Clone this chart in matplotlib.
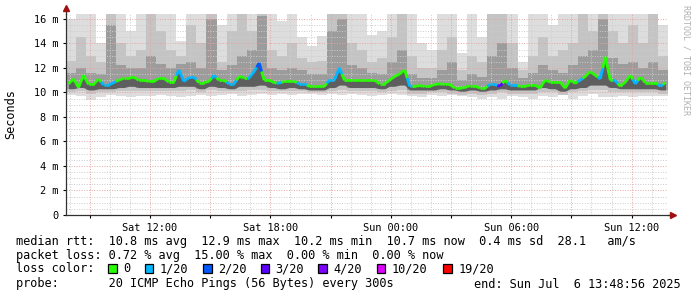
import matplotlib
matplotlib.use("Agg")
import matplotlib.pyplot as plt
import matplotlib.dates as mdates
from matplotlib.collections import LineCollection
from matplotlib.patches import Rectangle
from matplotlib.ticker import FuncFormatter, MultipleLocator
import numpy as np
import pandas as pd

# ----- data (values in ms) -----
start = pd.Timestamp("2025-07-05 07:48:56")
end = pd.Timestamp("2025-07-06 13:48:56")

# median rtt, one value per 15 minutes
rtt_median = [10.7, 11.1, 10.4, 11.4, 10.65, 10.65, 11.1, 10.6, 10.6, 10.8,
              11.0, 11.15, 11.15, 11.25, 11.0, 11.0, 10.9, 10.9, 11.15, 11.15,
              10.85, 10.85, 11.85, 10.9, 11.2, 11.25, 10.8, 10.8, 10.9, 11.4,
              11.0, 11.0, 10.7, 10.7, 11.3, 11.2, 11.2, 11.7, 12.4, 11.0,
              11.0, 10.8, 10.75, 10.9, 10.9, 10.9, 10.7, 10.7, 10.5, 10.5,
              10.5, 10.5, 11.0, 11.0, 12.0, 11.0, 11.0, 11.0, 11.0, 11.0,
              11.0, 11.0, 10.7, 10.7, 11.0, 11.3, 11.5, 11.85, 10.5, 10.5,
              10.55, 10.5, 10.5, 10.65, 10.7, 10.65, 10.65, 10.35, 10.35, 10.4,
              10.55, 10.55, 10.35, 10.35, 10.65, 10.65, 10.5, 11.0, 10.6, 10.6,
              10.5, 10.5, 10.6, 10.6, 10.35, 11.0, 10.85, 10.85, 10.85, 10.35,
              11.0, 10.75, 11.0, 11.3, 11.7, 11.4, 11.1, 12.9, 11.0, 10.95,
              10.5, 10.85, 11.4, 10.7, 11.25, 10.8, 10.8, 10.8, 10.5, 10.8]

# lost pings out of 20, per 15 minutes
loss = [0, 0, 0, 0, 0, 0, 0, 1, 1, 1, 0, 0, 0, 0, 0, 0, 0, 0, 0, 0,
        0, 0, 1, 1, 1, 1, 0, 0, 0, 1, 0, 0, 1, 1, 0, 0, 1, 1, 2, 0,
        0, 0, 1, 0, 0, 0, 1, 1, 0, 0, 0, 0, 1, 1, 1, 0, 0, 0, 0, 0,
        0, 0, 0, 0, 0, 0, 0, 0, 1, 0, 0, 0, 0, 0, 0, 0, 0, 0, 0, 0,
        0, 0, 0, 0, 1, 1, 3, 0, 1, 1, 0, 0, 0, 0, 0, 0, 0, 0, 0, 0,
        0, 0, 1, 0, 0, 0, 1, 0, 0, 1, 0, 0, 0, 1, 0, 0, 0, 0, 1, 0]

# smoke envelope, one value per 30 minutes
rtt_max = [16.0, 16.4, 16.4, 14.0, 16.4, 16.4, 15.0, 16.4, 16.4, 16.4,
           16.4, 14.2, 16.4, 16.4, 16.4, 15.5, 16.4, 16.4, 16.4, 16.4,
           16.4, 15.8, 16.4, 14.5, 13.8, 14.6, 16.4, 16.4, 16.4, 16.4,
           14.7, 15.0, 16.4, 16.4, 16.4, 14.0, 13.5, 16.4, 16.4, 13.2,
           16.4, 14.5, 16.4, 16.4, 16.4, 12.5, 16.4, 16.4, 15.5, 16.4,
           16.4, 16.4, 16.4, 16.4, 16.4, 16.4, 16.4, 16.4, 16.4, 15.5]

rtt_p90 = [12.6, 14.5, 13.0, 12.5, 16.4, 14.0, 13.0, 13.5, 16.4, 15.0,
           13.5, 13.0, 15.5, 14.0, 16.4, 12.5, 15.0, 16.4, 15.0, 16.4,
           13.5, 13.0, 14.0, 12.8, 12.5, 12.6, 16.4, 16.4, 14.0, 13.5,
           12.5, 12.8, 14.5, 16.4, 13.0, 12.0, 12.0, 13.5, 14.5, 11.8,
           13.0, 12.5, 16.4, 16.4, 14.0, 11.8, 13.0, 14.5, 13.0, 13.5,
           14.0, 16.4, 15.0, 16.4, 15.0, 14.0, 15.5, 14.0, 16.4, 13.0]

rtt_p75 = [11.6, 12.0, 11.6, 11.5, 15.5, 12.2, 12.0, 12.0, 13.0, 12.3,
           12.0, 12.3, 12.5, 12.0, 16.0, 11.8, 12.2, 13.0, 13.5, 16.2,
           12.0, 11.8, 12.0, 11.8, 11.5, 11.5, 15.0, 16.0, 12.2, 12.0,
           11.6, 11.5, 12.5, 13.5, 11.5, 11.2, 11.2, 11.8, 12.5, 11.0,
           11.5, 11.3, 13.0, 14.0, 12.0, 11.2, 11.6, 12.2, 11.8, 11.6,
           12.2, 13.0, 13.5, 16.0, 12.8, 12.3, 12.5, 12.0, 12.5, 11.8]

rtt_p25 = [10.3, 10.4, 10.2, 10.3, 10.3, 10.4, 10.5, 10.4, 10.4, 10.4,
           10.4, 10.5, 10.5, 10.3, 10.5, 10.4, 10.3, 10.5, 10.5, 10.6,
           10.4, 10.3, 10.4, 10.3, 10.2, 10.2, 10.4, 10.6, 10.4, 10.4,
           10.4, 10.3, 10.5, 10.6, 10.2, 10.2, 10.2, 10.3, 10.2, 10.1,
           10.2, 10.1, 10.2, 10.3, 10.2, 10.2, 10.2, 10.4, 10.3, 10.1,
           10.3, 10.4, 10.6, 10.6, 10.4, 10.3, 10.3, 10.3, 10.3, 10.2]

rtt_p10 = [10.0, 10.1, 9.9, 10.0, 10.0, 10.1, 10.1, 10.1, 10.1, 10.1,
           10.1, 10.1, 10.2, 10.0, 10.2, 10.1, 10.1, 10.1, 10.2, 10.2,
           10.1, 10.1, 10.1, 10.1, 10.0, 10.0, 10.1, 10.2, 10.1, 10.1,
           10.1, 10.0, 10.1, 10.2, 9.9, 9.9, 10.0, 10.0, 9.9, 9.8,
           9.9, 9.8, 9.9, 10.0, 9.9, 9.9, 9.9, 10.0, 10.0, 9.8,
           10.0, 10.1, 10.2, 10.2, 10.0, 10.0, 10.0, 10.0, 10.0, 9.9]

rtt_min = [9.8, 9.7, 9.4, 9.6, 9.8, 9.7, 9.6, 9.7, 9.7, 9.8,
           9.7, 9.6, 9.7, 9.8, 9.7, 9.8, 9.9, 9.7, 9.8, 9.9,
           9.8, 9.9, 9.8, 9.9, 9.9, 9.8, 9.9, 9.8, 9.9, 9.8,
           9.7, 9.8, 9.9, 9.8, 9.7, 9.6, 9.8, 9.7, 9.8, 9.7,
           9.6, 9.5, 9.6, 9.5, 9.7, 9.6, 9.5, 9.7, 9.6, 9.8,
           9.5, 9.7, 9.9, 9.6, 9.6, 9.7, 9.6, 9.7, 9.7, 9.7]

loss_labels = ["0", "1/20", "2/20", "3/20", "4/20", "10/20", "19/20"]
loss_counts = [0, 1, 2, 3, 4, 10, 19]
loss_colors = ["#26ff00", "#00b8ff", "#0059ff", "#5e00ff", "#7e00ff", "#dd00ff", "#ff0000"]

rtt_text = "median rtt:  10.8 ms avg  12.9 ms max  10.2 ms min  10.7 ms now  0.4 ms sd  28.1   am/s"
loss_text = "packet loss: 0.72 % avg  15.00 % max  0.00 % min  0.00 % now"
probe_text = "probe:       20 ICMP Echo Pings (56 Bytes) every 300s"
end_text = "end: Sun Jul  6 13:48:56 2025"

MONO = "DejaVu Sans Mono"
W, H = 697, 297

# ----- figure -----
fig = plt.figure(figsize=(W / 100, H / 100), dpi=100)
fig.patch.set_facecolor("white")
ax = fig.add_axes([66 / W, 1 - 215 / H, (668 - 66) / W, (215 - 14) / H])

edges = pd.date_range(start, periods=len(rtt_max) + 1, freq="30min")
xe = mdates.date2num(edges.to_pydatetime())
xm = mdates.date2num(pd.date_range(start + pd.Timedelta("7.5min"), periods=len(rtt_median),
                                   freq="15min").to_pydatetime())


def ext(v):
    return np.append(v, v[-1])


# smoke, outer (light) to inner (dark)
ax.fill_between(xe, ext(rtt_min), ext(rtt_max), step="post", color="#dddddd", lw=0, zorder=1)
ax.fill_between(xe, ext(rtt_p10), ext(rtt_p90), step="post", color="#c4c4c4", lw=0, zorder=1.1)
ax.fill_between(xe, ext(rtt_p25), ext(rtt_p75), step="post", color="#9c9c9c", lw=0, zorder=1.2)

# grid drawn over the smoke
for v in np.arange(0.5, 16.4, 0.5):
    major = abs(v % 2) < 1e-9
    ax.axhline(v, color="#e4a4a4" if major else "#cccccc", lw=0.7,
               ls=(0, (1, 1.6)), zorder=2)
hours = pd.date_range("2025-07-05 08:00", "2025-07-06 13:00", freq="1h")
for t in hours:
    ax.axvline(mdates.date2num(t.to_pydatetime()),
               color="#e4a4a4" if t.hour % 3 == 0 else "#cccccc",
               lw=0.7, ls=(0, (1, 1.6)), zorder=2)

# dark core below the median, then the median line coloured by loss
p25_fine = np.repeat(rtt_p25, 2)
ax.fill_between(xm, p25_fine, rtt_median, color="#5e5e5e", lw=0, zorder=2.5)
pts = np.column_stack([xm, rtt_median])
mids = (pts[:-1] + pts[1:]) / 2
segs, cols = [], []
col_of = dict(zip(loss_counts, loss_colors))
for i in range(len(pts) - 1):
    segs.append([pts[i], mids[i]])
    cols.append(col_of[loss[i]])
    segs.append([mids[i], pts[i + 1]])
    cols.append(col_of[loss[i + 1]])
ax.add_collection(LineCollection(segs, colors=cols, linewidths=2.0, zorder=4, capstyle="butt"))

ax.set_xlim(mdates.date2num(start.to_pydatetime()), mdates.date2num(end.to_pydatetime()))
ax.set_ylim(0, 16.4)

ax.yaxis.set_major_locator(MultipleLocator(2))
ax.yaxis.set_major_formatter(FuncFormatter(lambda v, _: "0" if v == 0 else f"{v:.0f} m"))
ax.xaxis.set_major_locator(mdates.HourLocator(byhour=[0, 6, 12, 18]))
ax.xaxis.set_major_formatter(mdates.DateFormatter("%a %H:%M"))
ax.xaxis.set_minor_locator(mdates.HourLocator(byhour=range(0, 24, 3)))
ax.tick_params(axis="both", labelsize=7.4, colors="#000000", length=2.5, width=0.8, pad=3)
ax.tick_params(axis="x", which="minor", length=2.5, width=0.8)
for lab in ax.get_xticklabels() + ax.get_yticklabels():
    lab.set_family(MONO)

for s in ["top", "right"]:
    ax.spines[s].set_visible(False)
for s in ["left", "bottom"]:
    ax.spines[s].set_color("#303030")
    ax.spines[s].set_linewidth(0.9)
    ax.spines[s].set_zorder(5)

# axis arrows
ax.plot([0, 0], [1, 1.025], transform=ax.transAxes, color="#303030", lw=0.9, clip_on=False)
ax.plot([0], [1.03], marker="^", ms=4, color="#a01010", transform=ax.transAxes, clip_on=False)
ax.plot([1, 1.006], [0, 0], transform=ax.transAxes, color="#303030", lw=0.9, clip_on=False)
ax.plot([1.008], [0], marker=">", ms=4, color="#a01010", transform=ax.transAxes, clip_on=False)

fig.text(11 / W, 1 - 114 / H, "Seconds", family=MONO, fontsize=8.6, rotation=90,
         ha="center", va="center")
fig.text(686 / W, 1 - 5 / H, "RRDTOOL / TOBI OETIKER", family=MONO, fontsize=6,
         color="#b0b0b0", rotation=-90, ha="center", va="top")

# ----- legend block -----
fig.text(16 / W, 1 - 241 / H, rtt_text, family=MONO, fontsize=8.6, va="center")
fig.text(16 / W, 1 - 256 / H, loss_text, family=MONO, fontsize=8.6, va="center")
fig.text(16 / W, 1 - 269 / H, "loss color:", family=MONO, fontsize=8.6, va="center")
fig.text(16 / W, 1 - 284 / H, probe_text, family=MONO, fontsize=8.6, va="center")
fig.text(681 / W, 1 - 284 / H, end_text, family=MONO, fontsize=8.6, va="center", ha="right")

box_left = [108.3, 145, 203.3, 260.7, 318.3, 376.7, 443.3]  # pixel layout of the colour swatches
for bx, lab, col in zip(box_left, loss_labels, loss_colors):
    fig.patches.append(Rectangle((bx / W, 1 - 272.5 / H), 8.3 / W, 8.3 / H, transform=fig.transFigure,
                                 facecolor=col, edgecolor="black", lw=0.9))
    fig.text((bx + 15) / W, 1 - 269 / H, lab, family=MONO, fontsize=8.6, va="center")

fig.savefig("out.png", dpi=100, facecolor="white")
